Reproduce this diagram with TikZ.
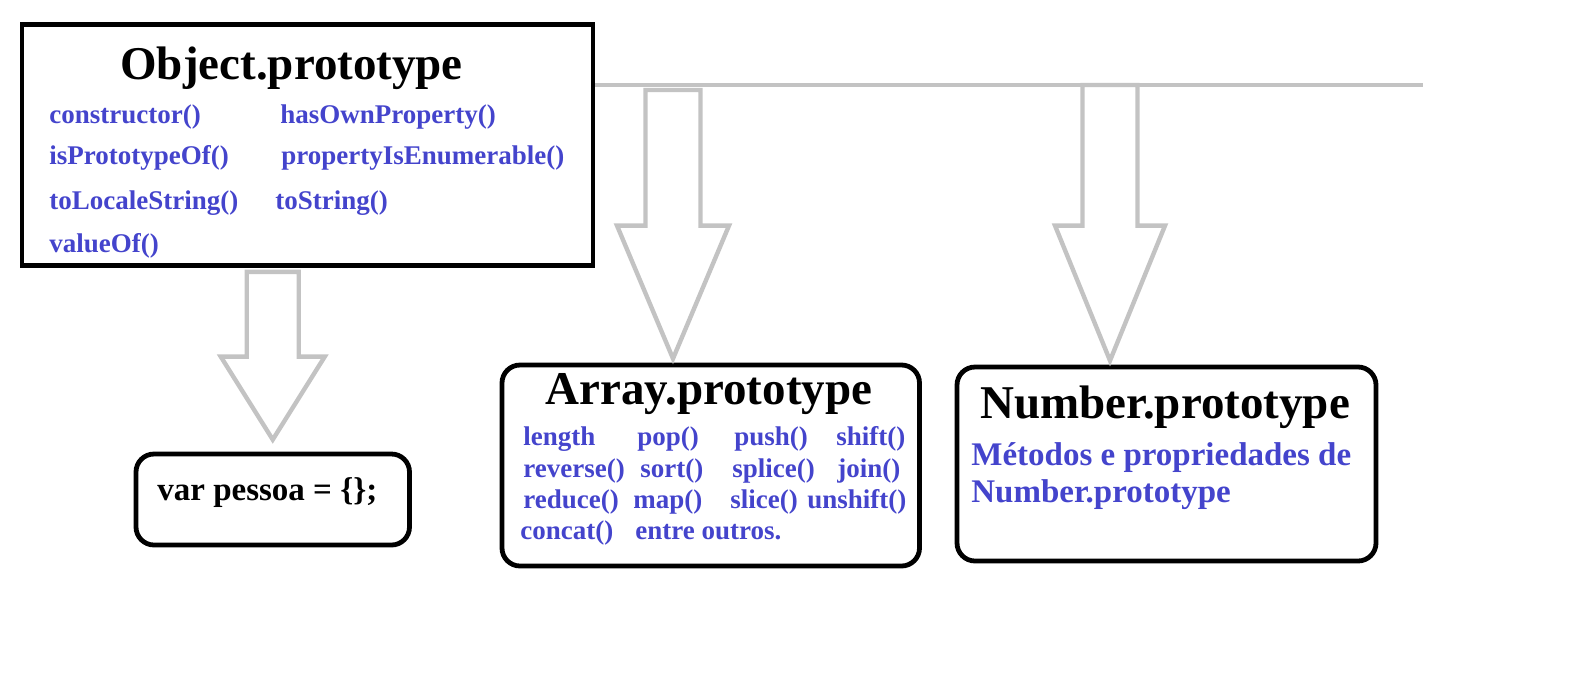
\documentclass[tikz,border=0pt]{standalone}
\usepackage{fontspec}
\setmainfont{Liberation Serif}
\usetikzlibrary{calc}

\definecolor{methodblue}{RGB}{68,68,204}
\definecolor{arrowgray}{RGB}{195,195,195}

\tikzset{
  protobox/.style={draw, line width=2.4pt, inner sep=0pt},
  roundbox/.style={protobox, rounded corners=9pt},
  boxtitle/.style={font=\fontsize{23.5pt}{28pt}\selectfont\bfseries, inner sep=0pt, anchor=base west},
  method/.style={font=\fontsize{13.5pt}{16pt}\selectfont\bfseries, text=methodblue, inner sep=0pt, anchor=base west},
  bigmethod/.style={method, font=\fontsize{16.5pt}{20pt}\selectfont\bfseries},
  decl/.style={font=\fontsize{16.5pt}{20pt}\selectfont\bfseries, inner sep=0pt, anchor=base west},
  inheritbar/.style={draw=arrowgray, line width=2.2pt},
  hollow arrow/.style={inheritbar, line join=miter}
}

% #1 top, #2 tip, #3 half shaft, #4 half head, #5 head length
\newcommand{\hollowarrow}[5]{%
  \draw[hollow arrow] ($(#1)+(-#3,0)$) -- ($(#2)+(-#3,-#5)$) -- ($(#2)+(-#4,-#5)$)
    -- (#2) -- ($(#2)+(#4,-#5)$) -- ($(#2)+(#3,-#5)$) -- ($(#1)+(#3,0)$) -- cycle;
}

\begin{document}
\begin{tikzpicture}[x=0.5pt, y=-0.5pt]
\useasboundingbox (0,0) rectangle (1589,676);

% boxes
\node[protobox, minimum width=285.5pt, minimum height=120.5pt] (object) at (307.5,145) {};
\node[roundbox, minimum width=136.75pt, minimum height=45.5pt] (pessoa) at (272.75,499.5) {};
\node[roundbox, minimum width=208.75pt, minimum height=100.5pt] (array) at (710.75,465.5) {};
\node[roundbox, minimum width=209.5pt, minimum height=97pt] (number) at (1166.5,464) {};

% Object.prototype
\node[boxtitle] (objtitle) at (120,79) {Object.prototype};
\node[method] (constructor) at (49,123) {constructor()};
\node[method] (hasown) at (280,123) {hasOwnProperty()};
\node[method] (isproto) at (49,164) {isPrototypeOf()};
\node[method] (propenum) at (281,164) {propertyIsEnumerable()};
\node[method] (tolocale) at (49,209) {toLocaleString()};
\node[method] (tostring) at (275,209) {toString()};
\node[method] (valueof) at (49,252) {valueOf()};

% var pessoa
\node[decl] (pessoatext) at (157,500) {var pessoa = \{\};};

% Array.prototype
\node[boxtitle] (arrtitle) at (545,404) {Array.prototype};
\node[method] (length) at (523,445) {length};
\node[method] (pop) at (637,445) {pop()};
\node[method] (push) at (734,445) {push()};
\node[method] (shift) at (836,445) {shift()};
\node[method] (reverse) at (523,477) {reverse()};
\node[method] (sort) at (640,477) {sort()};
\node[method] (splice) at (732,477) {splice()};
\node[method] (join) at (837,477) {join()};
\node[method] (reduce) at (523,508) {reduce()};
\node[method] (map) at (633,508) {map()};
\node[method] (slice) at (730,508) {slice()};
\node[method] (unshift) at (807,508) {unshift()};
\node[method] (concat) at (520,539) {concat()};
\node[method] (outros) at (635,539) {entre outros.};

% Number.prototype
\node[boxtitle] (numtitle) at (980,418) {Number.prototype};
\node[bigmethod] (numdesc1) at (971,465) {Métodos e propriedades de};
\node[bigmethod] (numdesc2) at (971,502) {Number.prototype};

% inheritance arrows
\coordinate (bar end) at (1423,85);
\draw[inheritbar] (object.east |- bar end) -- (bar end);
\coordinate (arr top) at (673,90);
\coordinate (arr tip) at ($(arr top |- array.north)+(0,-4)$);
\coordinate (num top) at (1110,85);
\coordinate (num tip) at ($(num top |- number.north)+(0,-4)$);
\coordinate (pes top) at ($(pessoa.north |- object.south)+(0,4)$);
\coordinate (pes tip) at ($(pessoa.north)+(0,-12)$);
\hollowarrow{arr top}{arr tip}{27.5}{56}{133}
\hollowarrow{num top}{num tip}{27.5}{55}{135}
\hollowarrow{pes top}{pes tip}{26}{52}{83}
\end{tikzpicture}
\end{document}
